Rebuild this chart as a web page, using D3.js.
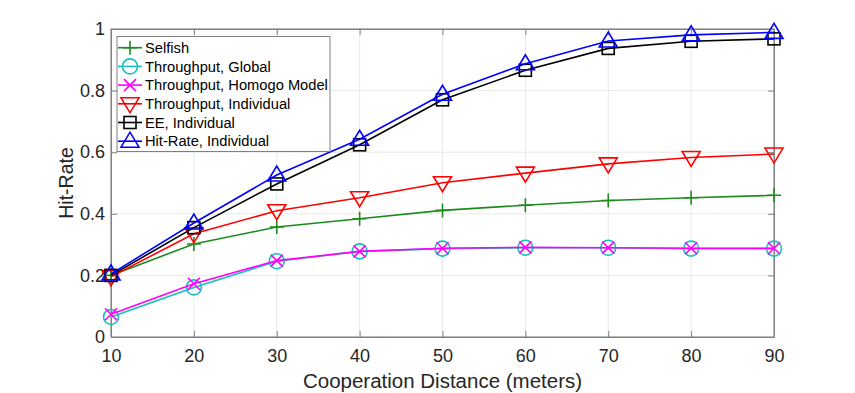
<!DOCTYPE html>
<html lang="en">
<head>
<meta charset="utf-8">
<script src="https://d3js.org/d3.v7.min.js"></script>
<style>
  body { margin: 0; background: #fff; }
  svg { font-family: "Liberation Sans", Arial, sans-serif; }
</style>
</head>
<body>
<div id="chart"></div>
<script>
// data
const distances = [10, 20, 30, 40, 50, 60, 70, 80, 90];
const selfish = [0.200, 0.302, 0.357, 0.384, 0.411, 0.428, 0.443, 0.452, 0.460];
const tputGlobal = [0.065, 0.161, 0.246, 0.278, 0.287, 0.290, 0.290, 0.287, 0.287];
const tputHomogo = [0.074, 0.173, 0.248, 0.278, 0.288, 0.291, 0.290, 0.288, 0.288];
const tputIndividual = [0.196, 0.335, 0.410, 0.452, 0.501, 0.532, 0.562, 0.583, 0.594];
const eeIndividual = [0.200, 0.355, 0.497, 0.624, 0.770, 0.866, 0.937, 0.960, 0.968];
const hitIndividual = [0.205, 0.370, 0.526, 0.642, 0.788, 0.887, 0.961, 0.981, 0.989];
const xTicks = [10, 20, 30, 40, 50, 60, 70, 80, 90];
const yTicks = [0, 0.2, 0.4, 0.6, 0.8, 1];

const series = [
  { name: "Selfish", values: selfish, color: "#1d8a1d", marker: "plus" },
  { name: "Throughput, Global", values: tputGlobal, color: "#17bfbf", marker: "circle" },
  { name: "Throughput, Homogo Model", values: tputHomogo, color: "#ff00ff", marker: "cross" },
  { name: "Throughput, Individual", values: tputIndividual, color: "#ff0000", marker: "tridown" },
  { name: "EE, Individual", values: eeIndividual, color: "#000000", marker: "square" },
  { name: "Hit-Rate, Individual", values: hitIndividual, color: "#0000ff", marker: "triup" }
];

const width = 855, height = 393;
const margin = { left: 111, right: 81, top: 29, bottom: 56 };

const svg = d3.select("#chart").append("svg")
  .attr("width", width)
  .attr("height", height);

const x = d3.scaleLinear().domain([10, 90]).range([margin.left, width - margin.right]);
const y = d3.scaleLinear().domain([0, 1]).range([height - margin.bottom, margin.top]);

const axisColor = "#808080";
const textColor = "#262626";

// grid
svg.append("g").selectAll("line.gx")
  .data(xTicks).join("line")
  .attr("x1", d => x(d)).attr("x2", d => x(d))
  .attr("y1", y(0)).attr("y2", y(1))
  .attr("stroke", "#e8e8e8").attr("stroke-width", 1);
svg.append("g").selectAll("line.gy")
  .data(yTicks).join("line")
  .attr("y1", d => y(d)).attr("y2", d => y(d))
  .attr("x1", x(10)).attr("x2", x(90))
  .attr("stroke", "#e8e8e8").attr("stroke-width", 1);

// box
svg.append("rect")
  .attr("x", x(10)).attr("y", y(1))
  .attr("width", x(90) - x(10)).attr("height", y(0) - y(1))
  .attr("fill", "none").attr("stroke", axisColor).attr("stroke-width", 1);

// axes with inward ticks
const xAxis = svg.append("g")
  .attr("transform", `translate(0,${y(0)})`)
  .call(d3.axisBottom(x).tickValues(xTicks).tickSizeInner(-6).tickSizeOuter(0).tickPadding(12));
const xTop = svg.append("g")
  .attr("transform", `translate(0,${y(1)})`)
  .call(d3.axisTop(x).tickValues(xTicks).tickSizeInner(-6).tickSizeOuter(0).tickFormat(""));
const yAxis = svg.append("g")
  .attr("transform", `translate(${x(10)},0)`)
  .call(d3.axisLeft(y).tickValues(yTicks).tickSizeInner(-6).tickSizeOuter(0).tickPadding(6)
    .tickFormat(d => d === 0 || d === 1 ? d3.format("d")(d) : d3.format(".1f")(d)));
const yRight = svg.append("g")
  .attr("transform", `translate(${x(90)},0)`)
  .call(d3.axisRight(y).tickValues(yTicks).tickSizeInner(-6).tickSizeOuter(0).tickFormat(""));

[xAxis, xTop, yAxis, yRight].forEach(g => {
  g.select(".domain").attr("stroke", axisColor);
  g.selectAll(".tick line").attr("stroke", axisColor);
  g.selectAll(".tick text")
    .attr("fill", textColor)
    .style("font-size", "18px")
    .style("font-family", "\"Liberation Sans\", Arial, sans-serif");
});

// axis labels
svg.append("text")
  .attr("x", (x(10) + x(90)) / 2).attr("y", 388)
  .attr("text-anchor", "middle")
  .attr("fill", textColor)
  .style("font-size", "20.5px")
  .text("Cooperation Distance (meters)");
svg.append("text")
  .attr("transform", `translate(73,${(y(0) + y(1)) / 2}) rotate(-90)`)
  .attr("text-anchor", "middle")
  .attr("fill", textColor)
  .style("font-size", "19.5px")
  .text("Hit-Rate");

// marker drawing
function drawMarker(g, type, color) {
  const sw = 1.6;
  if (type === "plus") {
    g.append("path").attr("d", "M-7,0H7M0,-7V7")
      .attr("stroke", color).attr("stroke-width", sw).attr("fill", "none");
  } else if (type === "circle") {
    g.append("circle").attr("r", 7.5)
      .attr("stroke", color).attr("stroke-width", sw).attr("fill", "none");
  } else if (type === "cross") {
    g.append("path").attr("d", "M-6,-6L6,6M-6,6L6,-6")
      .attr("stroke", color).attr("stroke-width", sw).attr("fill", "none");
  } else if (type === "tridown") {
    g.append("path").attr("d", "M-9,-6L9,-6L0,9Z")
      .attr("stroke", color).attr("stroke-width", sw).attr("fill", "none");
  } else if (type === "triup") {
    g.append("path").attr("d", "M-9,6L9,6L0,-9Z")
      .attr("stroke", color).attr("stroke-width", sw).attr("fill", "none");
  } else if (type === "square") {
    g.append("rect").attr("x", -6).attr("y", -6).attr("width", 12).attr("height", 12)
      .attr("stroke", color).attr("stroke-width", sw).attr("fill", "none");
  }
}

const line = d3.line()
  .x((d, i) => x(distances[i]))
  .y(d => y(d));

series.forEach(s => {
  const g = svg.append("g");
  g.append("path")
    .attr("d", line(s.values))
    .attr("fill", "none")
    .attr("stroke", s.color)
    .attr("stroke-width", 1.6);
  s.values.forEach((v, i) => {
    const m = g.append("g").attr("transform", `translate(${x(distances[i])},${y(v)})`);
    drawMarker(m, s.marker, s.color);
  });
});

// legend
const legend = svg.append("g");
legend.append("rect")
  .attr("x", 117).attr("y", 36.5)
  .attr("width", 213).attr("height", 115)
  .attr("fill", "#fff").attr("stroke", axisColor).attr("stroke-width", 1);
series.forEach((s, i) => {
  const cy = 47.7 + i * 18.7;
  const row = legend.append("g");
  row.append("line")
    .attr("x1", 118).attr("x2", 142)
    .attr("y1", cy).attr("y2", cy)
    .attr("stroke", s.color).attr("stroke-width", 1.6);
  drawMarker(row.append("g").attr("transform", `translate(130,${cy})`), s.marker, s.color);
  row.append("text")
    .attr("x", 145).attr("y", cy)
    .attr("dy", "0.35em")
    .attr("fill", "#000")
    .style("font-size", "14.7px")
    .text(s.name);
});
</script>
</body>
</html>
